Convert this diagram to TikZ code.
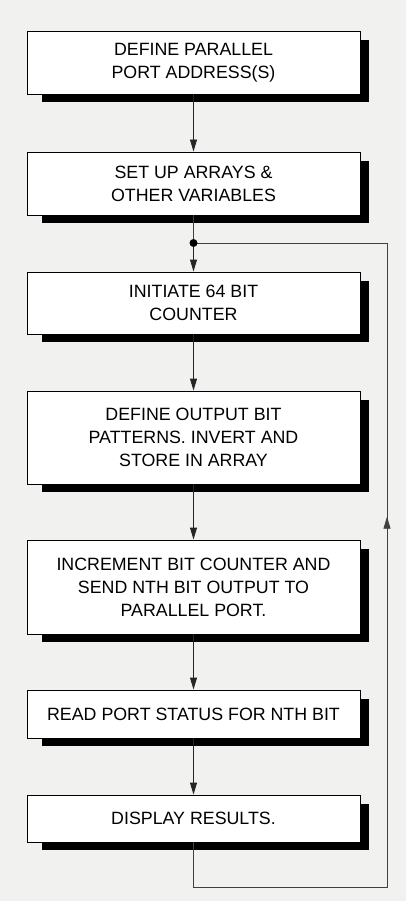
\documentclass[tikz,border=0pt]{standalone}
\usepackage{fontspec}
\setmainfont{Liberation Sans}
\usetikzlibrary{arrows.meta,calc,backgrounds}
\definecolor{paper}{HTML}{F1F1F0}
\tikzset{
  stepbox/.style={draw=black, line width=0.9pt, fill=white, minimum width=333pt, align=center,
    font=\fontsize{17.8}{23}\selectfont, inner sep=0pt},
  flow/.style={draw=black!85, line width=0.9pt, -{Triangle[length=12pt,width=7pt]}},
  back/.style={draw=black!75, line width=0.8pt},
  shade/.style={fill=black}
}
\begin{document}
\begin{tikzpicture}[x=1pt,y=-1pt]
\useasboundingbox (0,0) rectangle (406,901);
\node[stepbox, minimum height=63pt] (b1) at (193.5,62.5) {DEFINE PARALLEL\\PORT ADDRESS(S)};
\node[stepbox, minimum height=63pt] (b2) at (193.5,183.5) {SET UP ARRAYS \&\\OTHER VARIABLES};
\node[stepbox, minimum height=62pt] (b3) at (193.5,303) {INITIATE 64 BIT\\COUNTER};
\node[stepbox, minimum height=93pt] (b4) at (193.5,437.5) {DEFINE OUTPUT BIT\\PATTERNS. INVERT AND\\STORE IN ARRAY};
\node[stepbox, minimum height=94pt] (b5) at (193.5,587) {INCREMENT BIT COUNTER AND\\SEND NTH BIT OUTPUT TO\\PARALLEL PORT.};
\node[stepbox, minimum height=48pt] (b6) at (193.5,714) {READ PORT STATUS FOR NTH BIT};
\node[stepbox, minimum height=47pt] (b7) at (193.5,818.5) {DISPLAY RESULTS.};
\begin{scope}[on background layer]
\fill[paper] (0,0) rectangle (406,901);
\foreach \b in {b1,b2,b3,b4,b5,b6,b7}
  \fill[shade] ($(\b.south west)+(15pt,-8pt)$) rectangle ($(\b.north east)+(9pt,-9pt)$);
\end{scope}
\coordinate (j) at (193.5,243);
\coordinate (r1) at (387,887);
\coordinate (r2) at (387,243);
\draw[flow] (b1) -- (b2);
\draw[back] (b2) -- (j);
\draw[flow] (j) -- (b3);
\draw[flow] (b3) -- (b4);
\draw[flow] (b4) -- (b5);
\draw[flow] (b5) -- (b6);
\draw[flow] (b6) -- (b7);
\draw[back] (b7.south) |- (r1) -- (r2) -- (j);
\draw[back, -{Triangle[length=12pt,width=7pt]}] (r1) -- ($(r1)!0.575!(r2)$);
\fill (j) circle (4pt);
\end{tikzpicture}
\end{document}
